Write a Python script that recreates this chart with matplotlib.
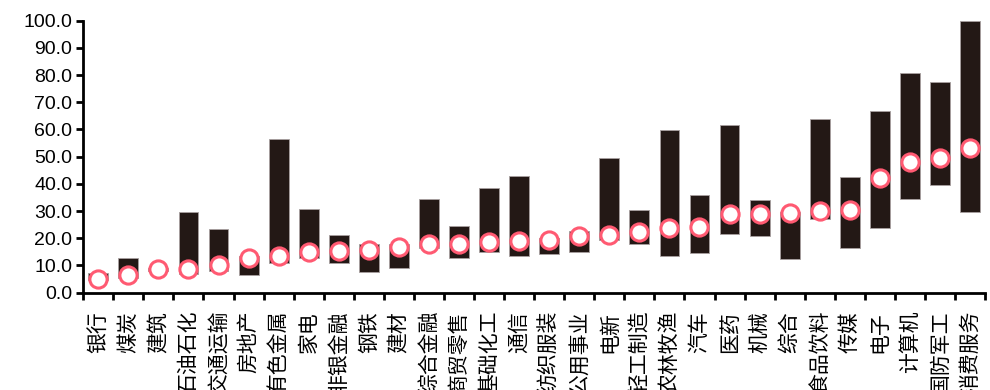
import matplotlib
matplotlib.use("Agg")
import matplotlib.pyplot as plt
from matplotlib.ticker import FormatStrFormatter

plt.rcParams['font.family'] = ['Liberation Sans', 'Noto Sans CJK SC', 'DejaVu Sans']

industries = ['银行', '煤炭', '建筑', '石油石化', '交通运输', '房地产', '有色金属', '家电',
              '非银金融', '钢铁', '建材', '综合金融', '商贸零售', '基础化工', '通信', '纺织服装',
              '公用事业', '电新', '轻工制造', '农林牧渔', '汽车', '医药', '机械', '综合',
              '食品饮料', '传媒', '电子', '计算机', '国防军工', '消费服务']

range_low = [4.5, 5.5, 8.0, 7.0, 8.1, 6.4, 11.0, 12.9, 10.8, 7.7,
             9.2, 16.3, 12.9, 14.9, 13.5, 14.3, 14.9, 19.5, 18.0, 13.5,
             14.7, 21.6, 20.8, 12.5, 27.0, 16.4, 23.7, 34.3, 39.6, 29.7]
range_high = [7.3, 12.6, 9.0, 29.6, 23.3, 13.5, 56.5, 30.9, 21.1, 17.8,
              18.0, 34.3, 24.5, 38.6, 43.0, 20.0, 22.7, 49.4, 30.4, 59.9,
              35.8, 61.7, 34.0, 29.5, 63.7, 42.6, 66.7, 80.7, 77.3, 100.0]
current = [4.9, 6.4, 8.6, 8.8, 10.2, 12.6, 13.5, 15.1, 15.3, 15.7,
           16.9, 17.8, 18.0, 18.8, 19.0, 19.4, 21.0, 21.1, 22.2, 23.9,
           24.3, 28.8, 28.8, 29.4, 29.9, 30.4, 42.0, 48.2, 49.5, 53.3]

fig = plt.figure(figsize=(9.9, 3.9), dpi=100)
ax = fig.add_axes([0.0841, 0.2495, 0.9109, 0.6975])

x = list(range(len(industries)))
heights = [h - l for h, l in zip(range_high, range_low)]
ax.bar(x, heights, bottom=range_low, width=0.66, color='#231815',
       edgecolor='#a8a0a0', linewidth=0.6, zorder=2, clip_on=False)
ax.plot(x, current, linestyle='none', marker='o', markersize=12.4,
        markerfacecolor='white', markeredgecolor='#ff5a72',
        markeredgewidth=2.2, zorder=3, clip_on=False)

ax.set_xlim(-0.5, len(industries) - 0.5)
ax.set_ylim(0, 100)
ax.set_yticks(range(0, 101, 10))
ax.yaxis.set_major_formatter(FormatStrFormatter('%.1f'))

ax.set_xticks([i - 0.5 for i in x] + [len(industries) - 0.5])
ax.set_xticklabels([])
ax.set_xticks(x, minor=True)
ax.set_xticklabels(industries, minor=True, rotation=90, va='top', ha='center',
                   fontsize=15, family=['Noto Sans CJK SC', 'DejaVu Sans'])
ax.tick_params(axis='x', which='minor', length=0, pad=13)
ax.tick_params(axis='x', which='major', length=5, width=2, direction='out')
ax.tick_params(axis='y', length=5, width=2, direction='out', labelsize=14, pad=3)

for side in ('top', 'right'):
    ax.spines[side].set_visible(False)
for side in ('left', 'bottom'):
    ax.spines[side].set_linewidth(2)
    ax.spines[side].set_color('black')

fig.savefig('out.png', dpi=100)
